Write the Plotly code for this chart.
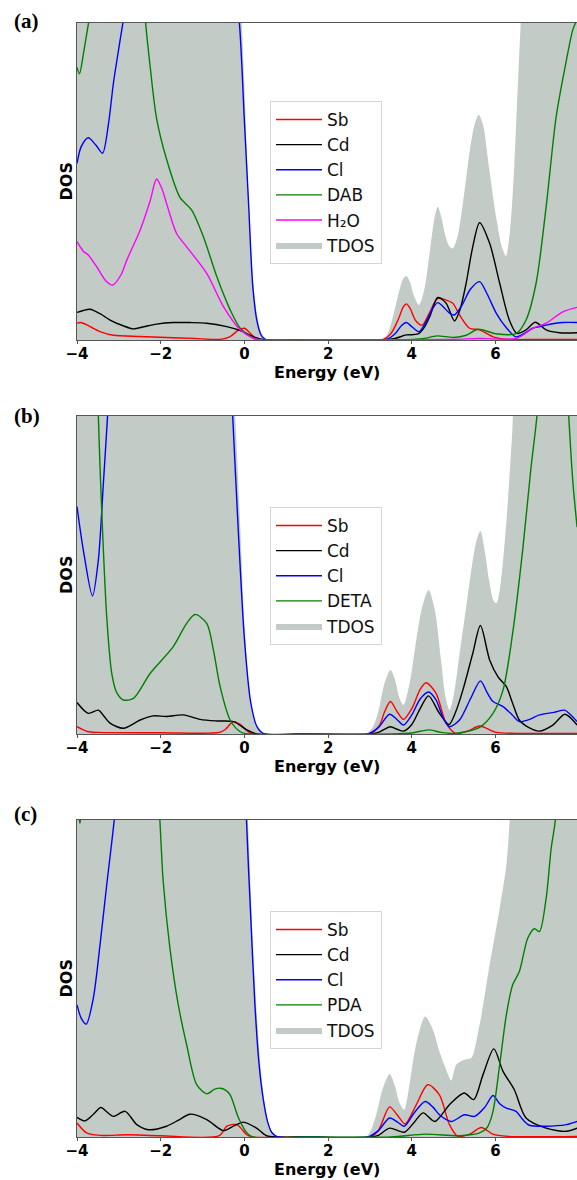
import plotly.graph_objects as go

# ---------------- Panel (a): DAB / H2O ----------------
a_tdos_e = [-4, -3, -2, -1, -0.5, -0.2, -0.1, 0, 0.1, 0.2, 0.3, 0.4, 0.5, 0.6, 1.5, 3.2, 3.4, 3.5, 3.6, 3.7,
            3.8, 3.87, 3.95, 4.05, 4.17, 4.3, 4.45, 4.55, 4.62, 4.7, 4.8, 4.9, 4.98, 5.1, 5.25, 5.4, 5.5, 5.6,
            5.7, 5.85, 6.0, 6.15, 6.25, 6.35, 6.45, 6.55, 6.62, 6.7, 7.0, 8.0]
a_tdos = [14, 14, 14, 14, 14, 13, 11, 8, 4.5, 2, 0.8, 0.25, 0.05, 0, 0, 0, 0.15, 0.5, 1.0, 1.55,
          1.95, 2.02, 1.85, 1.4, 1.1, 1.6, 3.0, 3.9, 4.2, 3.9, 3.3, 2.95, 2.89, 3.3, 4.6, 6.1, 6.8, 7.1,
          6.8, 5.4, 4.0, 2.95, 2.65, 3.5, 5.5, 8.5, 10.5, 13, 14, 14]

a_cl_e = [-4, -3.9, -3.73, -3.55, -3.39, -3.25, -3.13, -2.97, -2.88, -2.7, -1.5, -0.3, -0.12, 0, 0.1, 0.2,
          0.3, 0.4, 0.5, 0.6, 1.5, 3.2, 3.4, 3.6, 3.75, 3.87, 4.0, 4.17, 4.35, 4.5, 4.62, 4.75, 4.9, 5.02,
          5.2, 5.4, 5.62, 5.8, 6.02, 6.25, 6.49, 6.7, 6.89, 7.21, 7.61, 7.95]
a_cl = [5.57, 6.1, 6.38, 6.15, 5.89, 6.8, 8.1, 9.46, 10.2, 12, 14, 12, 10, 6.9, 4.3, 1.7,
        0.6, 0.15, 0.02, 0, 0, 0, 0.02, 0.2, 0.45, 0.55, 0.42, 0.26, 0.6, 1.0, 1.18, 1.05, 0.85, 0.79,
        1.1, 1.6, 1.84, 1.45, 0.84, 0.4, 0.1, 0.22, 0.37, 0.47, 0.55, 0.55]

a_org_e = [-4, -3.94, -3.85, -3.75, -3.69, -3.5, -2.6, -2.36, -2.25, -2.1, -1.86, -1.54, -1.26, -0.98, -0.66,
           -0.34, -0.1, 0.22, 0.4, 1.5, 3.3, 4.0, 4.3, 4.6, 5.0, 5.3, 5.58, 6.0, 6.49, 6.73, 6.97, 7.21,
           7.45, 7.69, 7.85, 7.95]
a_org = [8.6, 8.4, 9.0, 9.8, 10.3, 14, 14, 10, 8.6, 7.0, 5.7, 4.5, 4.1, 3.26, 2.0,
         0.95, 0.37, 0.05, 0, 0, 0, 0.02, 0.05, 0.13, 0.08, 0.15, 0.34, 0.2, 0.2, 0.63, 1.79, 4.2,
         7.05, 8.8, 9.8, 10.1]

a_cd_e = [-4, -3.85, -3.69, -3.45, -3.21, -2.9, -2.65, -2.4, -2.1, -1.7, -1.3, -0.9, -0.42, -0.1, 0.22, 0.5,
          1.5, 3.3, 3.6, 3.87, 4.15, 4.3, 4.43, 4.62, 4.82, 5.02, 5.15, 5.3, 5.45, 5.62, 5.86, 6.1, 6.33,
          6.51, 6.73, 6.95, 7.21, 7.53, 7.95]
a_cd = [0.87, 0.93, 0.97, 0.83, 0.63, 0.45, 0.35, 0.42, 0.5, 0.55, 0.55, 0.53, 0.42, 0.3, 0.1, 0,
        0, 0, 0.05, 0.16, 0.19, 0.4, 0.74, 1.34, 1.16, 0.6, 0.95, 1.8, 2.9, 3.7, 3.05, 1.79, 0.63,
        0.21, 0.32, 0.56, 0.32, 0.23, 0.23]

a_sb_e = [-4, -3.91, -3.75, -3.61, -3.4, -3.13, -2.5, -1.86, -1.2, -0.58, -0.35, -0.15, 0, 0.15, 0.33, 1.5,
          3.3, 3.5, 3.67, 3.8, 3.87, 3.95, 4.1, 4.25, 4.4, 4.62, 4.82, 4.98, 5.14, 5.38, 5.62, 5.94, 6.3,
          7.0, 7.95]
a_sb = [0.53, 0.55, 0.47, 0.37, 0.24, 0.15, 0.11, 0.08, 0.05, 0.02, 0.1, 0.3, 0.37, 0.2, 0, 0,
        0, 0.2, 0.63, 1.05, 1.14, 1.02, 0.6, 0.47, 0.8, 1.31, 1.26, 1.16, 0.79, 0.37, 0.32, 0.1, 0.02,
        0.02, 0.02]

a_h2o_e = [-4, -3.85, -3.73, -3.53, -3.3, -3.15, -2.95, -2.81, -2.49, -2.25, -2.1, -1.98, -1.86, -1.62,
           -1.38, -0.9, -0.5, -0.1, 0.22, 0.4, 1.5, 3.5, 5.0, 5.6, 6.5, 6.89, 7.21, 7.61, 7.95]
a_h2o = [3.1, 2.8, 2.68, 2.31, 1.85, 1.73, 2.05, 2.52, 3.47, 4.4, 5.08, 4.8, 4.31, 3.36,
         2.94, 2.1, 1.05, 0.32, 0.05, 0, 0, 0, 0.02, 0.05, 0.05, 0.37, 0.53, 0.89, 1.03]

# ---------------- Panel (b): DETA ----------------
b_tdos_e = [-4, -1, -0.4, -0.3, -0.2, -0.1, 0, 0.1, 0.2, 0.3, 0.45, 1.5, 2.9, 3.0, 3.1, 3.2, 3.35, 3.49, 3.6,
            3.7, 3.8, 3.95, 4.1, 4.25, 4.4, 4.55, 4.7, 4.8, 4.9, 5.0, 5.15, 5.3, 5.45, 5.55, 5.64, 5.75,
            5.85, 5.95, 6.02, 6.1, 6.25, 6.4, 6.5, 7.0, 8.0]
b_tdos = [14, 14, 14, 12, 9.5, 6.5, 3.5, 1.6, 0.6, 0.2, 0, 0, 0, 0.1, 0.3, 0.7, 1.6, 2.01, 1.7,
          1.15, 0.91, 1.6, 2.9, 4.0, 4.53, 3.9, 2.3, 1.2, 0.75, 1.2, 2.6, 4.0, 5.4, 6.1, 6.38, 5.7,
          4.8, 4.2, 4.11, 4.5, 6.5, 9.5, 12, 14, 14]

b_cl_e = [-4, -3.85, -3.63, -3.49, -3.37, -3.27, -3.1, -1.5, -0.4, -0.28, -0.15, 0, 0.15, 0.3, 0.45, 1.5,
          2.95, 3.2, 3.47, 3.65, 3.8, 4.0, 4.2, 4.4, 4.58, 4.75, 4.9, 5.14, 5.4, 5.64, 5.8, 5.94, 6.18,
          6.4, 6.57, 6.8, 7.05, 7.4, 7.65, 7.8, 7.95]
b_cl = [7.15, 5.79, 4.34, 5.47, 7.88, 10, 14, 14, 13, 10, 6.5, 3.0, 1.0, 0.23, 0.02, 0,
        0, 0.2, 0.62, 0.45, 0.28, 0.6, 1.1, 1.32, 1.07, 0.5, 0.23, 0.44, 1.1, 1.67, 1.3, 1.02, 0.86,
        0.6, 0.39, 0.45, 0.6, 0.68, 0.75, 0.6, 0.39]

b_org_e = [-4, -3.6, -3.49, -3.45, -3.37, -3.29, -3.17, -3.05, -2.89, -2.65, -2.25, -1.7, -1.38, -1.18, -0.9,
           -0.74, -0.58, -0.34, -0.1, 0.1, 1.5, 3.5, 4.0, 4.4, 4.7, 5.05, 5.62, 5.94, 6.18, 6.41, 6.65,
           6.85, 6.99, 7.2, 7.6, 7.75, 7.85, 7.95]
b_org = [14, 14, 10, 8.4, 5.79, 3.69, 1.91, 1.3, 1.07, 1.12, 1.91, 2.75, 3.48, 3.76, 3.48,
         2.64, 1.49, 0.44, 0.07, 0, 0, 0, 0.03, 0.13, 0.05, 0.02, 0.21, 0.65, 1.38, 3.17, 5.79,
         8.4, 10, 14, 14, 10, 7.9, 6.5]

b_cd_e = [-4, -3.73, -3.49, -3.35, -3.21, -2.89, -2.49, -2.18, -1.86, -1.46, -1.06, -0.66, -0.26, 0.06, 0.3,
          1.5, 3.0, 3.2, 3.49, 3.65, 3.8, 4.0, 4.2, 4.4, 4.66, 4.89, 5.05, 5.22, 5.45, 5.64, 5.86, 6.06,
          6.26, 6.4, 6.57, 6.8, 7.05, 7.37, 7.66, 7.95]
b_cd = [0.99, 0.65, 0.75, 0.55, 0.34, 0.18, 0.44, 0.57, 0.55, 0.6, 0.46, 0.41, 0.39, 0.13, 0,
        0, 0, 0.05, 0.23, 0.15, 0.09, 0.3, 0.8, 1.2, 0.65, 0.3, 0.7, 1.38, 2.5, 3.41, 2.33, 1.8,
        1.49, 1.0, 0.44, 0.2, 0.09, 0.28, 0.62, 0.28]

b_sb_e = [-4, -3.75, -3.5, -2, -0.6, -0.45, -0.34, -0.26, -0.1, 0.06, 0.2, 1.5, 3.0, 3.23, 3.35, 3.49, 3.65,
          3.8, 4.0, 4.2, 4.34, 4.58, 4.82, 5.05, 5.35, 5.62, 6.02, 6.5, 7.95]
b_sb = [0.23, 0.08, 0.05, 0.04, 0.05, 0.15, 0.31, 0.39, 0.3, 0.1, 0, 0, 0, 0.28, 0.7, 1.02, 0.7,
        0.46, 0.8, 1.4, 1.61, 1.28, 0.34, 0.02, 0.1, 0.25, 0.05, 0.02, 0.02]

# ---------------- Panel (c): PDA ----------------
c_tdos_e = [-4, -1, -0.2, 0.0, 0.1, 0.2, 0.3, 0.4, 0.5, 0.6, 0.7, 0.85, 1.5, 2.9, 3.0, 3.15, 3.3, 3.47, 3.6,
            3.7, 3.82, 3.95, 4.1, 4.32, 4.5, 4.66, 4.8, 4.94, 5.06, 5.26, 5.42, 5.62, 5.86, 6.1, 6.26,
            6.34, 6.5, 7.0, 8.0]
c_tdos = [14, 14, 14, 12, 9.5, 6.2, 3.8, 2.0, 0.9, 0.35, 0.1, 0, 0, 0, 0.15, 0.7, 1.5, 1.99, 1.6,
          1.1, 0.86, 1.7, 2.9, 3.8, 3.4, 2.7, 2.2, 1.78, 2.28, 2.44, 2.49, 3.54, 5.43, 7.22, 8.58,
          10, 13, 14, 14]

c_cl_e = [-4, -3.9, -3.78, -3.61, -3.45, -3.29, -3.11, -2.9, -1, 0.0, 0.05, 0.15, 0.25, 0.35, 0.45, 0.55,
          0.65, 0.8, 1.5, 2.95, 3.2, 3.47, 3.65, 3.82, 4.05, 4.32, 4.5, 4.66, 4.94, 5.26, 5.5, 5.75, 5.94,
          6.1, 6.26, 6.49, 6.65, 6.81, 7.21, 7.69, 7.95]
c_cl = [4.17, 3.75, 3.56, 4.38, 6.06, 7.95, 10, 13, 14, 13, 10, 7.0, 4.2, 2.3, 1.2, 0.5,
        0.15, 0, 0, 0, 0.2, 0.6, 0.48, 0.34, 0.75, 1.12, 0.95, 0.7, 0.49, 0.7, 0.65, 0.95, 1.31,
        1.05, 0.91, 0.81, 0.55, 0.37, 0.34, 0.39, 0.49]

c_org_e = [-4, -3.96, -3.93, -3.9, -3.8, -2.2, -2.02, -1.94, -1.78, -1.58, -1.38, -1.14, -0.9, -0.72, -0.58,
           -0.45, -0.34, -0.14, 0.06, 0.2, 1.5, 3.5, 4.32, 5.14, 5.62, 5.8, 5.94, 6.1, 6.26, 6.41, 6.57,
           6.77, 6.93, 7.05, 7.21, 7.33, 7.43, 7.6, 7.95]
c_org = [11, 10.2, 9.9, 10.2, 12, 14, 10, 8.06, 5.96, 4.17, 2.91, 1.65, 1.36, 1.5, 1.54,
         1.48, 1.33, 0.6, 0.13, 0, 0, 0, 0.09, 0.04, 0.13, 0.3, 0.81, 2.28, 3.86, 4.8, 5.22,
         6.27, 6.57, 6.48, 7.53, 9.1, 10, 14, 14]

c_cd_e = [-4, -3.81, -3.62, -3.43, -3.25, -3.13, -2.85, -2.57, -2.29, -1.86, -1.55, -1.3, -0.9, -0.5, -0.25,
          -0.02, 0.29, 0.53, 0.8, 1.5, 3.0, 3.2, 3.47, 3.82, 4.05, 4.27, 4.55, 4.9, 5.25, 5.48, 5.7, 5.96,
          6.18, 6.45, 6.73, 7.21, 7.69, 7.95]
c_cd = [0.62, 0.51, 0.7, 0.93, 0.75, 0.65, 0.81, 0.39, 0.23, 0.34, 0.55, 0.72, 0.55, 0.2, 0.35,
        0.47, 0.28, 0.04, 0, 0, 0, 0.05, 0.28, 0.15, 0.45, 0.76, 0.49, 1.02, 1.39, 1.18, 1.96, 2.78,
        2.07, 1.49, 0.6, 0.28, 0.18, 0.28]

c_sb_e = [-4, -3.77, -3.45, -2.8, -2, -0.6, -0.42, -0.18, 0.06, 0.2, 1.5, 3.0, 3.19, 3.47, 3.65, 3.84, 4.1,
          4.38, 4.66, 4.9, 5.1, 5.4, 5.66, 5.94, 6.3, 7.95]
c_sb = [0.44, 0.13, 0.05, 0.07, 0.04, 0.04, 0.34, 0.39, 0.07, 0, 0, 0, 0.18, 0.95, 0.7, 0.41, 1.0,
        1.65, 1.33, 0.39, 0.02, 0.1, 0.3, 0.09, 0.02, 0.02]

# ---------------- labels ----------------
panel_tags = ["(a)", "(b)", "(c)"]
organic_names = ["DAB", "DETA", "PDA"]
tick_vals = [-4, -2, 0, 2, 4, 6, 8]
tick_text = ["\u22124", "\u22122", "0", "2", "4", "6", "8"]
x_title = "Energy (eV)"
y_title = "DOS"

panels = [
    dict(tdos=(a_tdos_e, a_tdos),
         lines=[("Sb", a_sb_e, a_sb, "#ff0000"),
                ("Cd", a_cd_e, a_cd, "#000000"),
                ("Cl", a_cl_e, a_cl, "#0000ff"),
                (organic_names[0], a_org_e, a_org, "#008000"),
                ("H\u2082O", a_h2o_e, a_h2o, "#ff00ff")]),
    dict(tdos=(b_tdos_e, b_tdos),
         lines=[("Sb", b_sb_e, b_sb, "#ff0000"),
                ("Cd", b_cd_e, b_cd, "#000000"),
                ("Cl", b_cl_e, b_cl, "#0000ff"),
                (organic_names[1], b_org_e, b_org, "#008000")]),
    dict(tdos=(c_tdos_e, c_tdos),
         lines=[("Sb", c_sb_e, c_sb, "#ff0000"),
                ("Cd", c_cd_e, c_cd, "#000000"),
                ("Cl", c_cl_e, c_cl, "#0000ff"),
                (organic_names[2], c_org_e, c_org, "#008000")]),
]

W, H = 577, 1180
PLOT_LEFT = 77
# top / bottom pixel rows of each panel's frame
frames = [(23, 340), (416, 734), (820, 1137)]
legend_tops = [101, 507, 911]
tag_tops = [7, 402, 800]

TDOS_COLOR = "#c2cbc5"
AX_COLOR = "#555555"
FONT = "DejaVu Sans"

fig = go.Figure()
layout = dict(
    width=W, height=H,
    margin=dict(l=0, r=0, t=0, b=0, autoexpand=False),
    paper_bgcolor="white", plot_bgcolor="white",
    showlegend=True,
    annotations=[],
)

for i, p in enumerate(panels):
    sfx = "" if i == 0 else str(i + 1)
    xa, ya = "x" + sfx, "y" + sfx
    lg = "legend" + sfx

    e, d = p["tdos"]
    fig.add_trace(go.Scatter(
        x=e, y=d, xaxis=xa, yaxis=ya, name="TDOS", mode="lines",
        line=dict(width=0, color=TDOS_COLOR, shape="spline", smoothing=0.8),
        fill="tozeroy", fillcolor=TDOS_COLOR, legend=lg, legendrank=10,
        hoverinfo="skip"))
    for rank, (name, ex, vy, col) in enumerate(p["lines"]):
        fig.add_trace(go.Scatter(
            x=ex, y=vy, xaxis=xa, yaxis=ya, name=name, mode="lines",
            line=dict(width=1.4, color=col, shape="spline", smoothing=0.8),
            legend=lg, legendrank=rank + 1))

    top, bot = frames[i]
    layout["xaxis" + sfx] = dict(
        domain=[PLOT_LEFT / W, 1], anchor=ya, range=[-4, -4 + (W - PLOT_LEFT) / 41.85],
        automargin=False,
        tickmode="array", tickvals=tick_vals, ticktext=tick_text,
        ticks="outside", ticklen=3, tickcolor=AX_COLOR, tickwidth=1,
        ticklabelstandoff=-3,
        tickfont=dict(family=FONT, size=15, color="black", weight="bold"),
        showline=True, linecolor=AX_COLOR, linewidth=1, mirror=True,
        showgrid=False, zeroline=False,
    )
    layout["yaxis" + sfx] = dict(
        domain=[1 - bot / H, 1 - top / H], anchor=xa, range=[0, 10],
        automargin=False,
        showticklabels=False, ticks="", showgrid=False, zeroline=False,
        showline=True, linecolor=AX_COLOR, linewidth=1, mirror=True,
    )
    layout[lg] = dict(
        x=270 / W, y=1 - legend_tops[i] / H, xanchor="left", yanchor="top",
        bgcolor="rgba(255,255,255,0.85)", bordercolor="#d5d5d5", borderwidth=1,
        font=dict(family=FONT, size=17, color="#111111"),
        itemwidth=46, traceorder="normal",
    )
    # axis titles placed relative to each panel's frame
    layout["annotations"].append(dict(
        text=x_title, xref=xa + " domain", yref=ya + " domain", x=0.5, y=0,
        xanchor="center", yanchor="top", yshift=-22, borderpad=0, showarrow=False,
        font=dict(family=FONT, size=16, color="black", weight="bold")))
    layout["annotations"].append(dict(
        text=y_title, xref=xa + " domain", yref=ya + " domain", x=0, y=0.5,
        xanchor="center", yanchor="middle", xshift=-11, textangle=-90, showarrow=False,
        font=dict(family=FONT, size=16, color="black", weight="bold")))
    layout["annotations"].append(dict(
        text="<b>" + panel_tags[i] + "</b>", xref="paper", yref="paper",
        x=12 / W, y=1 - tag_tops[i] / H, xanchor="left", yanchor="top",
        showarrow=False, font=dict(family="Liberation Serif", size=21, color="black")))

fig.update_layout(**layout)
fig.write_html("out.html")
